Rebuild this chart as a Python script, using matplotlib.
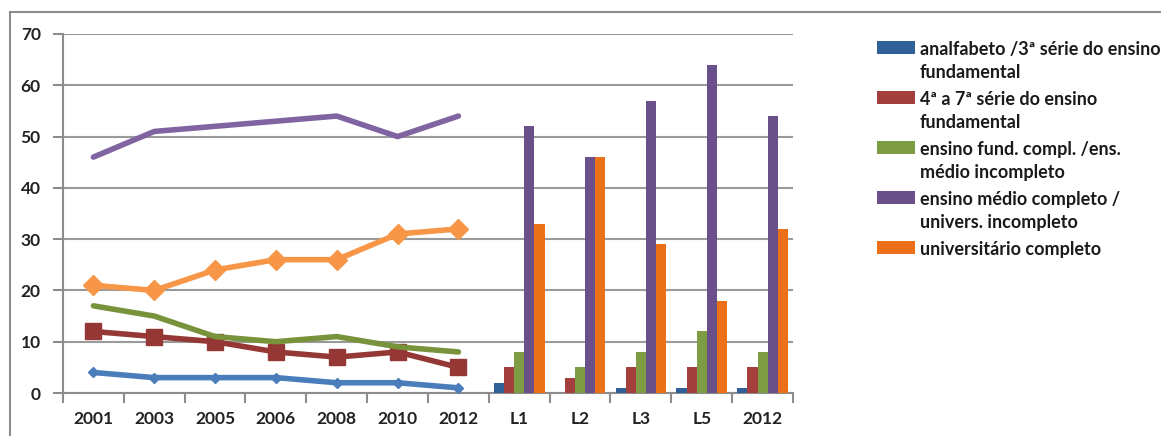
import matplotlib
matplotlib.use("Agg")
import matplotlib.pyplot as plt
from matplotlib.patches import Rectangle
import numpy as np

plt.rcParams['font.family'] = ['Lato', 'DejaVu Sans']

categories = ["2001", "2003", "2005", "2006", "2008", "2010", "2012", "L1", "L2", "L3", "L5", "2012"]
line_cats = 7  # first seven categories drawn as lines

series_labels = [
    "analfabeto /3ª série do ensino\nfundamental",
    "4ª a 7ª série do ensino\nfundamental",
    "ensino fund. compl. /ens.\nmédio incompleto",
    "ensino médio completo /\nunivers. incompleto",
    "universitário completo",
]

# line part (years)
analfabeto_line = [4, 3, 3, 3, 2, 2, 1]
serie47_line = [12, 11, 10, 8, 7, 8, 5]
fund_compl_line = [17, 15, 11, 10, 11, 9, 8]
medio_compl_line = [46, 51, 52, 53, 54, 50, 54]
univ_line = [21, 20, 24, 26, 26, 31, 32]

# bar part (L1, L2, L3, L5, 2012)
analfabeto_bar = [2, 0, 1, 1, 1]
serie47_bar = [5, 3, 5, 5, 5]
fund_compl_bar = [8, 5, 8, 12, 8]
medio_compl_bar = [52, 46, 57, 64, 54]
univ_bar = [33, 46, 29, 18, 32]

line_colors = ["#4A7EBB", "#953735", "#77933C", "#8064A2", "#F79646"]
bar_colors = ["#2F6098", "#A33F3C", "#7E9C44", "#6A5088", "#EB7119"]
markers = ["D", "s", None, None, "D"]
msizes = [5, 11, 0, 0, 10]

W, H = 1161, 436
fig = plt.figure(figsize=(W / 100, H / 100), dpi=100)
ax = fig.add_axes([63 / W, 43 / H, (793 - 63) / W, (393 - 34) / H])

# outer chart frame
fig.patches.append(Rectangle((10 / W, -0.05), 1.2, (436 - 12) / H + 0.05,
                             transform=fig.transFigure, fill=False,
                             edgecolor="#8C8C8C", linewidth=1.5, clip_on=False))

x = np.arange(len(categories))
lines = [analfabeto_line, serie47_line, fund_compl_line, medio_compl_line, univ_line]
bars = [analfabeto_bar, serie47_bar, fund_compl_bar, medio_compl_bar, univ_bar]

for i, vals in enumerate(lines):
    ax.plot(x[:line_cats], vals, color=line_colors[i], linewidth=4,
            marker=markers[i], markersize=msizes[i], solid_joinstyle="round",
            solid_capstyle="round", zorder=3)

bx = x[line_cats:]
bw = 0.167
for i, vals in enumerate(bars):
    ax.bar(bx + (i - 2) * bw, vals, width=bw, color=bar_colors[i], zorder=3)

ax.set_xlim(-0.5, len(categories) - 0.5)
ax.set_ylim(0, 70)
ax.set_yticks(range(0, 71, 10))
ax.yaxis.grid(True, color="#9A9A9A", linewidth=1.5)
ax.set_axisbelow(True)
ax.set_xticks(x)
ax.set_xticklabels(categories)
ax.set_xticks(np.arange(-0.5, len(categories), 1), minor=True)
ax.tick_params(axis="x", which="major", length=0, pad=13)
ax.tick_params(axis="x", which="minor", length=7, width=1.5, color="#8C8C8C")
ax.tick_params(axis="y", length=7, width=1.5, color="#8C8C8C", pad=9)
for lab in ax.get_xticklabels() + ax.get_yticklabels():
    lab.set_fontsize(12.5)
    lab.set_fontweight("bold")
    lab.set_color("#222222")
for s in ["top", "right"]:
    ax.spines[s].set_visible(False)
for s in ["left", "bottom"]:
    ax.spines[s].set_color("#8C8C8C")
    ax.spines[s].set_linewidth(1.5)

# legend drawn manually (patch aligned with first text line)
base0 = 55
step = 50
lstep = 23
for i, lab in enumerate(series_labels):
    yb = base0 + i * step
    fig.patches.append(Rectangle((877 / W, 1 - (yb - 1) / H), 38 / W, 13 / H,
                                 transform=fig.transFigure, facecolor=bar_colors[i],
                                 edgecolor="none"))
    for k, part in enumerate(lab.split("\n")):
        fig.text(920 / W, 1 - (yb + k * lstep) / H, part, fontsize=13,
                 fontweight="bold", color="#1A1A1A", va="baseline", ha="left")

fig.savefig("out.png", dpi=100)
